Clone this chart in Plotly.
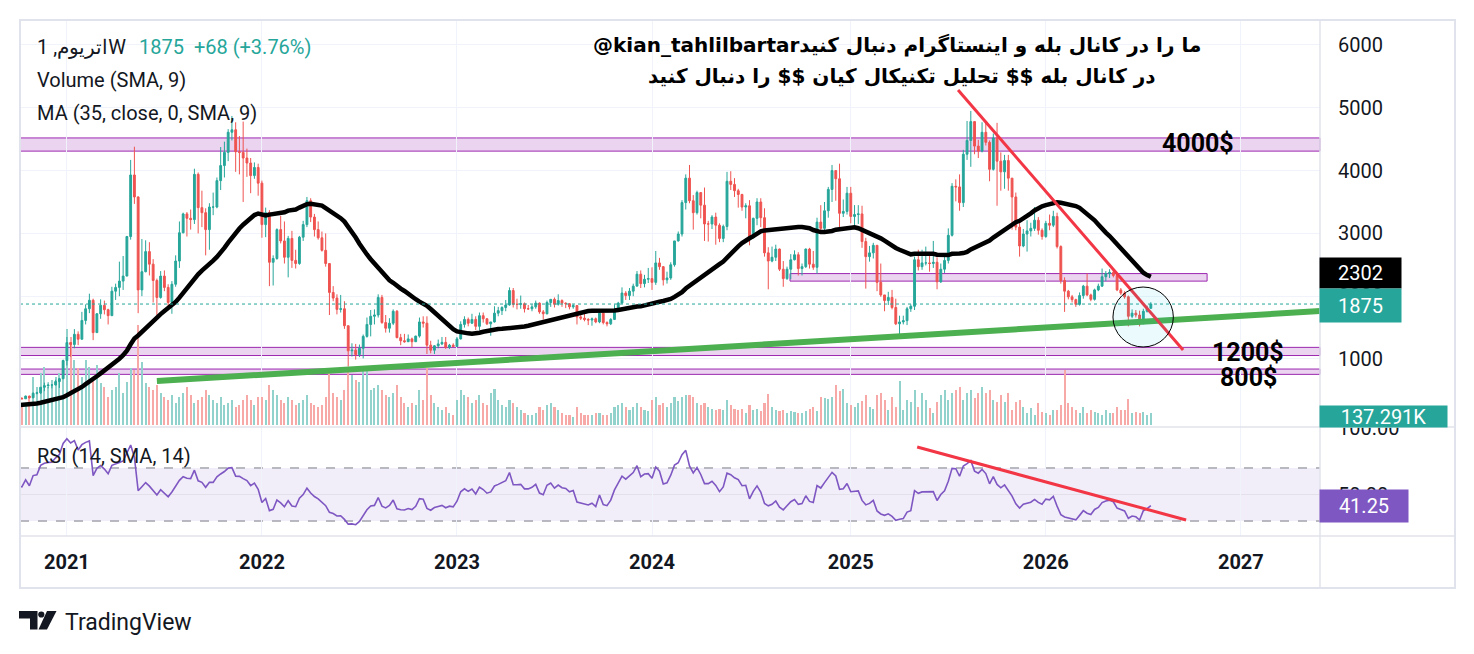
import numpy as np
import pandas as pd
import plotly.graph_objects as go

# ---------------- data (weekly bars) ----------------
# first bar 2020-02-10; the bars before Oct 2020 only warm up the MA / RSI
FIRST_WEEK = "2020-02-10"
FIRST_OPEN = 223

close_2020 = [265, 251, 218, 201, 124, 131, 131, 143, 158, 170,
              194, 206, 187, 199, 207, 231, 245, 233, 229, 225,
              241, 238, 236, 311, 390, 395, 428, 387, 434, 353,
              381, 385, 357, 346, 370, 366, 409, 383, 454, 461,
              550, 575, 585, 586, 640, 686, 975]
high_2020 = [288, 282, 275, 253, 203, 153, 149, 152, 176, 175,
             198, 227, 216, 209, 214, 245, 253, 251, 240, 249,
             246, 249, 244, 312, 397, 404, 445, 446, 437, 488,
             389, 396, 391, 366, 375, 393, 418, 416, 468, 477,
             550, 623, 630, 596, 670, 699, 990]
low_2020 = [222, 243, 209, 198, 90, 107, 123, 125, 140, 150,
            167, 191, 176, 180, 193, 195, 229, 222, 225, 221,
            222, 235, 229, 234, 309, 370, 372, 376, 379, 308,
            333, 355, 308, 333, 335, 362, 366, 371, 374, 437,
            441, 487, 533, 533, 579, 538, 680]

close_2021 = [1261, 1230, 1393, 1315, 1614, 1800, 1935, 1420, 1720, 1855,
              1785, 1690, 2080, 2140, 2240, 2320, 2950, 3930, 3580, 2100,
              2390, 2710, 2510, 2250, 1980, 2320, 2140, 1900, 2190, 2560,
              3010, 3310, 3240, 3220, 3940, 3410, 3330, 3060, 3420, 3420,
              3840, 4080, 4290, 4610, 4650, 4300, 4290, 4200, 4120, 3920,
              4050, 3800]
high_2021 = [1350, 1269, 1476, 1440, 1750, 1870, 2040, 1960, 1730, 1950,
             1930, 1800, 2150, 2200, 2550, 2640, 2960, 4170, 4380, 3590,
             2910, 2890, 2860, 2590, 2280, 2400, 2410, 2190, 2240, 2650,
             3190, 3330, 3340, 3380, 4030, 3970, 3680, 3400, 3480, 3650,
             3890, 4375, 4460, 4660, 4870, 4770, 4550, 4780, 4350, 4200,
             4130, 4110]
low_2021 = [896, 1035, 1170, 1220, 1310, 1550, 1730, 1300, 1415, 1640,
            1710, 1550, 1690, 1940, 2000, 2100, 2320, 2900, 3470, 1730,
            2000, 2380, 2330, 1900, 1700, 1960, 2080, 1840, 1720, 2150,
            2450, 3000, 2950, 3060, 3150, 3000, 3100, 2650, 2740, 3290,
            3400, 3690, 3890, 4150, 4480, 3980, 3940, 3500, 3900, 3640,
            3870, 3600]

close_2022 = [3140, 3330, 2540, 2600, 3060, 2880, 2620, 2920, 2570, 2520,
              2940, 3140, 3520, 3260, 3060, 2930, 2730, 2520, 2060, 1970,
              1790, 1800, 1530, 1130, 1140, 1070, 1170, 1360, 1550, 1680,
              1700, 1980, 1580, 1490, 1570, 1760, 1340, 1290, 1275, 1320,
              1275, 1365, 1590, 1570, 1220, 1140, 1210, 1240, 1265, 1185,
              1220, 1200]
high_2022 = [3840, 3410, 3370, 2650, 3080, 3280, 3190, 2960, 3040, 2740,
             2960, 3200, 3580, 3560, 3310, 3190, 3030, 3000, 2520, 2160,
             2030, 2020, 1920, 1530, 1250, 1240, 1230, 1390, 1660, 1780,
             1790, 2030, 2020, 1700, 1650, 1790, 1780, 1400, 1400, 1390,
             1340, 1370, 1660, 1680, 1680, 1290, 1220, 1310, 1350, 1350,
             1240, 1250]
low_2022 = [2930, 2940, 2160, 2170, 2580, 2840, 2520, 2300, 2450, 2440,
            2500, 2880, 3100, 3180, 2950, 2900, 2710, 2470, 1700, 1920,
            1710, 1740, 1480, 880, 1040, 990, 1030, 1010, 1340, 1360,
            1550, 1660, 1560, 1420, 1420, 1540, 1330, 1220, 1260, 1270,
            1190, 1270, 1340, 1500, 1080, 1090, 1080, 1170, 1220, 1160,
            1160, 1190]

close_2023 = [1320, 1550, 1630, 1570, 1630, 1520, 1690, 1640, 1560, 1590,
              1730, 1770, 1820, 1860, 2090, 1870, 1870, 1880, 1800, 1800,
              1830, 1890, 1750, 1720, 1900, 1950, 1870, 1930, 1890, 1880,
              1830, 1850, 1670, 1650, 1630, 1620, 1640, 1590, 1730, 1580,
              1560, 1630, 1780, 1890, 2050, 2010, 2080, 2160, 2350, 2200,
              2270, 2280]
high_2023 = [1350, 1600, 1680, 1660, 1720, 1680, 1740, 1740, 1650, 1590,
             1840, 1830, 1840, 1940, 2140, 2130, 1960, 2010, 1900, 1860,
             1870, 1930, 1900, 1780, 1930, 1950, 1980, 2030, 1950, 1900,
             1890, 1870, 1860, 1700, 1740, 1650, 1660, 1660, 1750, 1750,
             1600, 1650, 1870, 1910, 2140, 2080, 2130, 2200, 2400, 2410,
             2340, 2450]
low_2023 = [1190, 1310, 1500, 1520, 1560, 1460, 1460, 1580, 1540, 1370,
            1580, 1680, 1700, 1760, 1850, 1820, 1790, 1800, 1740, 1780,
            1760, 1800, 1720, 1630, 1710, 1830, 1820, 1850, 1830, 1810,
            1790, 1800, 1550, 1620, 1600, 1540, 1530, 1570, 1570, 1550,
            1520, 1540, 1620, 1750, 1880, 1940, 1940, 2000, 2160, 2130,
            2140, 2210]

close_2024 = [2220, 2530, 2470, 2260, 2290, 2500, 2880, 2990, 3490, 3880,
              3520, 3330, 3650, 3450, 3150, 3150, 3260, 3130, 2920, 3110,
              3830, 3780, 3680, 3620, 3420, 3440, 2930, 3240, 3500, 3250,
              2690, 2560, 2620, 2750, 2430, 2280, 2430, 2580, 2660, 2440,
              2470, 2750, 2510, 2460, 3180, 3080, 3360, 3700, 4000, 3870,
              3320, 3350, 3640]
high_2024 = [2460, 2720, 2610, 2480, 2390, 2540, 2880, 3030, 3530, 3940,
             4090, 3610, 3680, 3650, 3730, 3200, 3290, 3330, 3160, 3140,
             3980, 3990, 3880, 3710, 3630, 3480, 3530, 3250, 3560, 3560,
             3400, 2780, 2790, 2820, 2760, 2560, 2470, 2670, 2730, 2700,
             2520, 2760, 2770, 2720, 3250, 3450, 3500, 3740, 4090, 4000,
             4110, 3540, 3740]
low_2024 = [2100, 2180, 2420, 2170, 2200, 2260, 2470, 2870, 2950, 3380,
            3480, 3060, 3300, 3240, 2880, 2870, 3070, 2820, 2860, 2860,
            3050, 3690, 3580, 3410, 3360, 3240, 2810, 2920, 3130, 3100,
            2630, 2110, 2540, 2560, 2400, 2150, 2260, 2270, 2570, 2330,
            2330, 2450, 2440, 2420, 2360, 2990, 3020, 3250, 3500, 3520,
            3100, 3260, 3300]

close_2025 = [3270, 3300, 3310, 2870, 2630, 2690, 2810, 2220, 2020, 1930,
              1980, 1820, 1560, 1590, 1610, 1800, 1840, 2580, 2470, 2530,
              2530, 2520, 2540, 2230, 2430, 2570, 2970, 3750, 3740, 3490,
              4260, 4480, 4780, 4390, 4310, 4610, 4450, 4020, 4520, 4150,
              3980, 4160, 3880, 3580, 3100, 2800, 2990, 3040, 3080, 3210,
              3050, 2950]
high_2025 = [3740, 3450, 3450, 3440, 2930, 2800, 2850, 2810, 2520, 2020,
             2070, 2100, 1960, 1690, 1690, 1830, 1870, 2630, 2740, 2740,
             2790, 2690, 2880, 2620, 2520, 2640, 3080, 3800, 3860, 3940,
             4330, 4790, 4950, 4790, 4490, 4770, 4770, 4480, 4590, 4760,
             4290, 4250, 4250, 3880, 3650, 3180, 3070, 3210, 3170, 3420,
             3260, 3080]
low_2025 = [3160, 3100, 3150, 2770, 2120, 2550, 2600, 2080, 1990, 1760,
            1860, 1790, 1540, 1385, 1550, 1540, 1750, 1780, 2410, 2420,
            2490, 2390, 2450, 2110, 2210, 2370, 2520, 2950, 3510, 3360,
            3420, 4170, 4060, 4260, 4200, 4290, 4400, 3830, 4000, 3440,
            3680, 3710, 3680, 3060, 3050, 2630, 2780, 2710, 2950, 3040,
            2980, 2900]

close_2026 = [3160, 3130, 3270, 2790, 2250, 2080, 1990, 1945, 1870, 2010,
              2160, 2020, 1950, 2100, 2160, 2310, 2360, 2380, 2330, 2100,
              2050, 1990, 1680, 1730, 1700, 1560, 1760, 1807, 1875]
high_2026 = [3200, 3300, 3360, 3330, 2810, 2300, 2100, 2020, 1960, 2060,
             2180, 2360, 2040, 2120, 2200, 2440, 2400, 2430, 2450, 2370,
             2130, 2080, 2010, 1790, 1780, 1770, 1800, 1850, 1905]
low_2026 = [2930, 3050, 3100, 2760, 2200, 1750, 1950, 1900, 1830, 1850,
            1960, 2000, 1920, 1930, 2080, 2150, 2240, 2290, 2300, 2080,
            2020, 1960, 1520, 1650, 1660, 1520, 1560, 1740, 1800]

# volume in K (only the bars that are on screen, from Oct 2020)
vol_2020 = [205, 250, 320, 545, 435, 595, 660, 435, 515, 545, 595, 740]
vol_2021 = [1095, 1005, 740, 650, 545, 740, 660, 515, 685, 480,
            435, 320, 400, 435, 595, 365, 490, 650, 625, 1140,
            720, 480, 435, 400, 455, 365, 320, 285, 340, 250,
            320, 365, 435, 340, 250, 285, 320, 400, 340, 285,
            250, 320, 230, 250, 285, 205, 230, 285, 340, 285,
            230, 320]
vol_2022 = [320, 285, 455, 400, 340, 285, 250, 320, 285, 230,
            250, 285, 340, 250, 230, 205, 230, 320, 625, 365,
            320, 285, 400, 650, 570, 515, 490, 660, 650, 400,
            420, 455, 400, 340, 320, 365, 455, 320, 250, 205,
            250, 230, 400, 285, 650, 340, 250, 205, 170, 205,
            135, 115]
vol_2023 = [285, 400, 340, 320, 250, 285, 340, 250, 230, 365,
            410, 285, 230, 205, 285, 250, 205, 170, 135, 115,
            115, 135, 205, 170, 230, 250, 205, 170, 135, 115,
            115, 90, 205, 135, 115, 115, 115, 135, 135, 115,
            115, 135, 205, 230, 250, 205, 170, 205, 250, 205,
            170, 160]
vol_2024 = [285, 320, 230, 250, 205, 250, 320, 275, 320, 340,
            340, 320, 250, 230, 250, 205, 180, 170, 180, 170,
            285, 230, 180, 170, 180, 135, 230, 170, 180, 160,
            250, 355, 205, 170, 160, 170, 135, 160, 150, 135,
            135, 160, 180, 205, 160, 320, 310, 295, 320, 455,
            390, 410, 250]
vol_2025 = [230, 205, 250, 275, 340, 205, 180, 340, 365, 285,
            170, 320, 205, 500, 170, 285, 260, 400, 205, 365,
            285, 195, 135, 260, 340, 400, 285, 365, 400, 435,
            285, 365, 400, 310, 365, 435, 365, 400, 285, 260,
            340, 260, 365, 170, 260, 285, 205, 135, 195, 115,
            250, 150]
vol_2026 = [135, 115, 170, 170, 230, 625, 250, 205, 170, 135,
            205, 135, 170, 150, 135, 115, 170, 135, 135, 205,
            170, 170, 295, 135, 150, 135, 150, 115, 137.291]

# axis ticks and the value tags on the price scale
YEAR_TICKS = ["2021-01-04", "2022-01-03", "2023-01-02", "2024-01-01",
              "2025-01-06", "2026-01-05", "2027-01-04"]
YEAR_LABELS = ["2021", "2022", "2023", "2024", "2025", "2026", "2027"]
PRICE_TICKS = [1000, 2000, 3000, 4000, 5000, 6000]
RSI_TICKS = [50, 100]
RSI_LABELS = ["50.00", "100.00"]
MA_TAG = "2302"
VOL_TAG = "137.291K"
RSI_TAG = "41.25"
HEADER_CHANGE = "+68 (+3.76%)"

week_close = close_2020 + close_2021 + close_2022 + close_2023 + close_2024 + close_2025 + close_2026
week_high = high_2020 + high_2021 + high_2022 + high_2023 + high_2024 + high_2025 + high_2026
week_low = low_2020 + low_2021 + low_2022 + low_2023 + low_2024 + low_2025 + low_2026
week_volume = vol_2020 + vol_2021 + vol_2022 + vol_2023 + vol_2024 + vol_2025 + vol_2026
assert len(week_close) == len(week_high) == len(week_low)

# ---------------- indicators ----------------
dates = pd.date_range(FIRST_WEEK, periods=len(week_close), freq="7D")
close = pd.Series(week_close, index=dates, dtype=float)
open_ = close.shift(1).fillna(FIRST_OPEN)
ma35 = close.rolling(35).mean()
delta = close.diff()
gain = delta.clip(lower=0).ewm(alpha=1 / 14, adjust=False).mean()
loss = (-delta.clip(upper=0)).ewm(alpha=1 / 14, adjust=False).mean()
rsi = 100 - 100 / (1 + gain / loss)

vol_dates = dates[-len(week_volume):]

# ---------------- style ----------------
UP = "#26a69a"
DOWN = "#ef5350"
VOL_UP = "#92d2cc"
VOL_DOWN = "#f7a9a7"
GRID = "#f0f3fa"
FRAME = "#e0e3eb"
TXT = "#131722"
ZONE_FILL = "#ebd4ef"
ZONE_LINE = "#9c27b0"
RSI_COL = "#7e57c2"
FONT = "Roboto"

vol_colors = np.where(close[vol_dates].values >= open_[vol_dates].values, VOL_UP, VOL_DOWN)

# the page adds an 8px body margin, so the figure is 8px smaller and all
# pixel positions below are given in screenshot pixels
PAGE = 8
W, H = 1474 - PAGE, 654 - PAGE
ML, MR, MT, MB = 20 - PAGE, 154, 20 - PAGE, 66
PW, PH = W - ML - MR, H - MT - MB


def px(x):
    # screenshot column -> paper x
    return (x - PAGE - ML) / PW


def py(y):
    # screenshot row -> paper y
    return (H - MB - (y - PAGE)) / PH


BASE = pd.Timestamp("2021-01-04")


def wk(n):
    # position n weeks after the first 2021 bar (for the drawings)
    return (BASE + pd.Timedelta(days=7 * n)).isoformat()


WEEK_MS = 7 * 24 * 3600 * 1000

fig = go.Figure()
fig.add_trace(go.Bar(x=vol_dates, y=week_volume, width=WEEK_MS * 0.55,
                     marker=dict(color=vol_colors, line_width=0),
                     yaxis="y", showlegend=False))
fig.add_trace(go.Candlestick(x=dates, open=open_.values, high=week_high,
                             low=week_low, close=close.values,
                             increasing=dict(line=dict(color=UP, width=1), fillcolor=UP),
                             decreasing=dict(line=dict(color=DOWN, width=1), fillcolor=DOWN),
                             whiskerwidth=0, yaxis="y3", showlegend=False))
fig.add_trace(go.Scatter(x=dates, y=ma35, mode="lines",
                         line=dict(color="black", width=4.5),
                         yaxis="y3", showlegend=False))
fig.add_trace(go.Scatter(x=dates, y=rsi, mode="lines",
                         line=dict(color=RSI_COL, width=1.6),
                         yaxis="y2", showlegend=False))

# ---------------- drawings ----------------
shapes = []
# horizontal zones
for lo, hi in [(4310, 4520), (1055, 1185), (755, 840)]:
    shapes.append(dict(type="rect", xref="paper", yref="y3", x0=0, x1=1, y0=lo, y1=hi,
                       fillcolor=ZONE_FILL, line=dict(color=ZONE_LINE, width=1), layer="below"))
shapes.append(dict(type="rect", xref="x", yref="y3", x0=wk(192.8), x1=wk(304), y0=2240, y1=2360,
                   fillcolor=ZONE_FILL, line=dict(color=ZONE_LINE, width=1), layer="below"))
# last price dotted line
shapes.append(dict(type="line", xref="paper", yref="y3", x0=0, x1=1,
                   y0=close.iloc[-1], y1=close.iloc[-1],
                   line=dict(color=UP, width=1, dash="dot")))
# rising support and falling resistance
shapes.append(dict(type="line", xref="x", yref="y3", x0=wk(24), y0=650, x1=wk(334.2), y1=1764,
                   line=dict(color="#4caf50", width=6)))
shapes.append(dict(type="line", xref="x", yref="y3", x0=wk(237.6), y0=5282, x1=wk(297.6), y1=1143,
                   line=dict(color="#f23645", width=3)))
shapes.append(dict(type="circle", xref="x", yref="y3", x0=wk(278.9), x1=wk(295), y0=1191, y1=2146,
                   fillcolor="rgba(0,188,212,0.08)", line=dict(color="black", width=1)))
# RSI pane
shapes.append(dict(type="rect", xref="paper", yref="y2", x0=0, x1=1, y0=30, y1=70,
                   fillcolor="rgba(126,87,194,0.1)", line_width=0, layer="below"))
for lvl in [70, 30]:
    shapes.append(dict(type="line", xref="paper", yref="y2", x0=0, x1=1, y0=lvl, y1=lvl,
                       line=dict(color="#787b86", width=1, dash="dash"), layer="below"))
shapes.append(dict(type="line", xref="paper", yref="y2", x0=0, x1=1, y0=50, y1=50,
                   line=dict(color="rgba(120,123,134,0.12)", width=1), layer="below"))
shapes.append(dict(type="line", xref="x", yref="y2", x0=wk(226.7), y0=85.8, x1=wk(298.4), y1=30.8,
                   line=dict(color="#f23645", width=3)))
# frame and pane separators
shapes.append(dict(type="rect", xref="paper", yref="paper", x0=0, x1=px(1455), y0=0, y1=1,
                   line=dict(color=FRAME, width=2)))
shapes.append(dict(type="line", xref="paper", yref="paper", x0=1, x1=1, y0=0, y1=1,
                   line=dict(color=FRAME, width=1.5)))
for yy in [427, 536]:
    shapes.append(dict(type="line", xref="paper", yref="paper", x0=0, x1=px(1455),
                       y0=py(yy), y1=py(yy), line=dict(color=FRAME, width=1.5)))
# TradingView logo
shapes.append(dict(type="path", xref="paper", yref="paper", fillcolor=TXT, line_width=0,
                   path=f"M {px(19)},{py(611)} L {px(37.5)},{py(611)} L {px(37.5)},{py(629.5)} "
                        f"L {px(30)},{py(629.5)} L {px(30)},{py(618.5)} L {px(19)},{py(618.5)} Z"))
shapes.append(dict(type="circle", xref="paper", yref="paper", fillcolor=TXT, line_width=0,
                   x0=px(38.2), x1=px(44.4), y0=py(617.6), y1=py(611.4)))
shapes.append(dict(type="path", xref="paper", yref="paper", fillcolor=TXT, line_width=0,
                   path=f"M {px(47)},{py(611)} L {px(56.5)},{py(611)} L {px(47)},{py(629.5)} "
                        f"L {px(38.5)},{py(629.5)} Z"))

# ---------------- texts ----------------
def note(text, x, y, size=20, color=TXT, anchor="left", family=FONT, **kw):
    return dict(text=text, x=px(x), y=py(y), xref="paper", yref="paper",
                xanchor=anchor, yanchor="middle", showarrow=False,
                font=dict(family=family, size=size, color=color), **kw)


def tag(text, x0, x1, y0, y1, bg):
    return dict(text=text, x=px((x0 + x1) / 2), y=py((y0 + y1) / 2), xref="paper", yref="paper",
                xanchor="center", yanchor="middle", showarrow=False, bgcolor=bg,
                width=x1 - x0, height=y1 - y0, borderpad=0, align="center", valign="middle",
                font=dict(family=FONT, size=20, color="white"))


annotations = [
    note("اتریوم, 1W", 35, 47),
    note(f"{close.iloc[-1]:.0f}\u00a0\u00a0{HEADER_CHANGE}", 137, 47, color=UP),
    note("Volume (SMA, 9)", 35, 80),
    note("MA (35, close, 0, SMA, 9)", 35, 113),
    note("RSI (14, SMA, 14)", 35, 456),
    note("<b>@kian_tahlilbartarما را در کانال بله و اینستاگرام دنبال کنید</b>", 897, 45,
         size=20, color="black", anchor="center", family="DejaVu Sans"),
    note("<b>در کانال بله $$ تحلیل تکنیکال کیان $$ را دنبال کنید</b>", 902, 76,
         size=20, color="black", anchor="center", family="DejaVu Sans"),
    note("<b>4000$</b>", 1198, 143, size=25, color="black", anchor="center"),
    note("<b>1200$</b>", 1248, 353, size=25, color="black", anchor="center"),
    note("<b>800$</b>", 1248, 378, size=25, color="black", anchor="center"),
    note("TradingView", 63, 622, size=23),
    tag(MA_TAG, 1320, 1401, 258, 288, "black"),
    tag(f"{close.iloc[-1]:.0f}", 1320, 1401, 289, 322, UP),
    tag(VOL_TAG, 1320, 1447, 406, 427, UP),
    tag(RSI_TAG, 1320, 1408, 490, 522, RSI_COL),
]

fig.update_layout(
    width=W, height=H,
    margin=dict(l=ML, r=MR, t=MT, b=MB, autoexpand=False),
    paper_bgcolor="white", plot_bgcolor="white",
    font=dict(family=FONT, color=TXT),
    hovermode=False,
    bargap=0,
    shapes=shapes,
    annotations=annotations,
    xaxis=dict(type="date", anchor="y2", automargin=False,
               range=[wk(-12.5), wk(334.1)],
               tickvals=YEAR_TICKS, ticktext=[f"<b>{t}</b>" for t in YEAR_LABELS],
               tickfont=dict(size=20, color=TXT), ticks="", ticklabelstandoff=12,
               showgrid=True, gridcolor=GRID, zeroline=False, showline=False,
               rangeslider=dict(visible=False)),
    # volume, bottom of the price pane
    yaxis=dict(domain=[py(427), 1], range=[-23, 4617], visible=False, fixedrange=True,
               automargin=False),
    # price
    yaxis3=dict(overlaying="y", side="right", anchor="x", range=[-83, 6398], automargin=False,
                tickvals=PRICE_TICKS, ticktext=[str(v) for v in PRICE_TICKS],
                tickfont=dict(size=20, color=TXT), ticks="", ticklabelstandoff=17,
                showgrid=True, gridcolor=GRID, zeroline=False, showline=False),
    # RSI
    yaxis2=dict(domain=[py(536), py(427)], side="right", anchor="x", range=[18.7, 100.9],
                automargin=False,
                tickvals=RSI_TICKS, ticktext=RSI_LABELS,
                tickfont=dict(size=20, color=TXT), ticks="", ticklabelstandoff=17,
                showgrid=False, zeroline=False, showline=False),
)

fig.write_html("out.html")
